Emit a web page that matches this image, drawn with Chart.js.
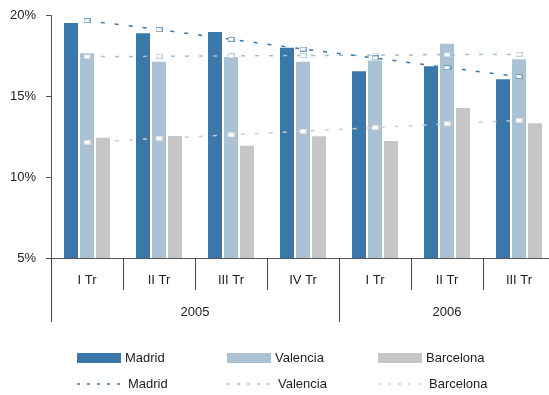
<!DOCTYPE html>
<html lang="es">
<head>
<meta charset="UTF-8">
<title>Madrid, Valencia, Barcelona</title>
<script src="https://cdn.jsdelivr.net/npm/chart.js"></script>
<style>
    body { margin: 0; background: #fff; font-family: 'Liberation Sans', Arial, sans-serif; }
    .wrap { position: relative; width: 549px; height: 395px; overflow: hidden; }
    canvas { position: absolute; left: 0; top: 0; }
    .leg { position: absolute; font-size: 13px; color: #222; display: flex; align-items: center; white-space: nowrap; }
    .leg .box { width: 44px; height: 10px; margin-right: 4px; }
    .leg svg { margin-right: 4px; }
</style>
</head>
<body>
<div class="wrap" id="wrap">
    <canvas id="chart" width="556" height="395"></canvas>
</div>
<script>
const categories = ['I Tr', 'II Tr', 'III Tr', 'IV Tr', 'I Tr', 'II Tr', 'III Tr'];
const years = ['2005', '2006'];
const yearSpans = [4, 3];

const madrid = [19.57, 18.93, 19.01, 18.04, 16.59, 16.90, 16.09];
const valencia = [17.70, 17.18, 17.47, 17.18, 17.26, 18.29, 17.33];
const barcelona = [12.49, 12.59, 11.99, 12.57, 12.28, 14.32, 13.38];

const madridTrend = [19.65, 19.10, 18.50, 17.90, 17.35, 16.75, 16.20];
const valenciaTrend = [17.43, 17.45, 17.48, 17.50, 17.52, 17.55, 17.57];
const barcelonaTrend = [12.15, 12.38, 12.60, 12.83, 13.05, 13.28, 13.50];

const yTicks = [5, 10, 15, 20];

const colors = { madrid: '#3a78a7', valencia: '#aac2d4', barcelona: '#c7c6c4' };
const lineColors = { madrid: '#3a78a7', valencia: '#a3bfd3', barcelona: '#cdcdcd' };

// small white box used as point marker on the trend lines
function makeMarker(color) {
    const c = document.createElement('canvas');
    c.width = 7; c.height = 5;
    const g = c.getContext('2d');
    g.fillStyle = '#fff';
    g.fillRect(0, 0, 7, 5);
    g.strokeStyle = color;
    g.globalAlpha = 0.7;
    g.lineWidth = 1;
    g.strokeRect(0.5, 0.5, 6, 4);
    return c;
}

function barSet(label, data, color) {
    return {
        type: 'bar', label: label, data: data, order: 2,
        backgroundColor: color, borderColor: '#fff', borderWidth: 1, borderSkipped: 'bottom',
        barPercentage: 1, categoryPercentage: 0.667
    };
}

function lineSet(label, data, color) {
    return {
        type: 'line', label: label, data: data, order: 1,
        borderColor: color, borderWidth: 1.5, borderDash: [4, 10], fill: false,
        pointStyle: makeMarker(color), pointRadius: 3, tension: 0
    };
}

// draws category separators, year row and axis extension
const groupAxis = {
    id: 'groupAxis',
    afterDraw(chart) {
        const ctx = chart.ctx;
        const x = chart.scales.x;
        const area = chart.chartArea;
        const bottom = area.bottom;
        const n = categories.length;
        const half = (x.getPixelForValue(1) - x.getPixelForValue(0)) / 2;
        const edge = i => x.getPixelForValue(i) - half;

        ctx.save();
        ctx.strokeStyle = '#444';
        ctx.lineWidth = 1;

        let yearEnds = [];
        let acc = 0;
        yearSpans.forEach(s => { acc += s; yearEnds.push(acc); });

        for (let i = 1; i < n; i++) {
            const px = Math.round(edge(i)) + 0.5;
            const isYear = yearEnds.includes(i);
            ctx.beginPath();
            ctx.moveTo(px, bottom);
            ctx.lineTo(px, isYear ? bottom + 64 : bottom + 32);
            ctx.stroke();
        }
        ctx.beginPath();
        ctx.moveTo(area.left + 0.5, bottom);
        ctx.lineTo(area.left + 0.5, bottom + 64);
        ctx.stroke();

        ctx.fillStyle = '#222';
        ctx.font = '13px "Liberation Sans", Arial, sans-serif';
        ctx.textAlign = 'center';
        ctx.textBaseline = 'middle';
        let start = 0;
        years.forEach((yr, k) => {
            const end = start + yearSpans[k];
            const cx = (edge(start) + edge(end)) / 2;
            ctx.fillText(yr, cx, bottom + 54);
            start = end;
        });
        ctx.restore();
    }
};

const chart = new Chart(document.getElementById('chart').getContext('2d'), {
    data: {
        labels: categories,
        datasets: [
            barSet('Madrid', madrid, colors.madrid),
            barSet('Valencia', valencia, colors.valencia),
            barSet('Barcelona', barcelona, colors.barcelona),
            lineSet('Madrid', madridTrend, lineColors.madrid),
            lineSet('Valencia', valenciaTrend, lineColors.valencia),
            lineSet('Barcelona', barcelonaTrend, lineColors.barcelona)
        ]
    },
    options: {
        responsive: false,
        animation: false,
        layout: { autoPadding: false, padding: { top: 15, right: 1, left: 0, bottom: 0 } },
        plugins: { legend: { display: false }, tooltip: { enabled: false } },
        scales: {
            x: {
                type: 'category',
                offset: true,
                grid: { display: false, drawTicks: false },
                border: { color: '#555', width: 1 },
                ticks: { padding: 15, color: '#222', font: { family: 'Liberation Sans', size: 13 }, maxRotation: 0, autoSkip: false },
                afterFit: s => { s.height = 137; s.paddingLeft = 0; s.paddingRight = 0; }
            },
            y: {
                min: 5, max: 20,
                afterBuildTicks: s => { s.ticks = yTicks.map(v => ({ value: v })); },
                grid: { drawOnChartArea: false, drawTicks: true, tickLength: 5, tickColor: '#555' },
                border: { color: '#555', width: 1 },
                ticks: { padding: 10, color: '#222', font: { family: 'Liberation Sans', size: 13 }, callback: v => v + '%' },
                afterFit: s => { s.width = 51; s.paddingTop = 0; s.paddingBottom = 0; }
            }
        }
    },
    plugins: [groupAxis]
});

// legend built from the datasets
const wrap = document.getElementById('wrap');
const legendCols = [77, 227, 378];
chart.data.datasets.forEach((ds, i) => {
    const el = document.createElement('div');
    el.className = 'leg';
    const col = i % 3;
    el.style.left = legendCols[col] + 'px';
    if (ds.type === 'bar') {
        el.style.top = '350px';
        el.innerHTML = '<span class="box" style="background:' + ds.backgroundColor + '"></span><span>' + ds.label + '</span>';
    } else {
        el.style.top = '376px';
        el.innerHTML = '<svg width="47" height="4"><line x1="0" y1="2" x2="47" y2="2" stroke="' + ds.borderColor +
            '" stroke-width="1.5" stroke-dasharray="3 7"/></svg><span>' + ds.label + '</span>';
    }
    wrap.appendChild(el);
});
</script>
</body>
</html>
